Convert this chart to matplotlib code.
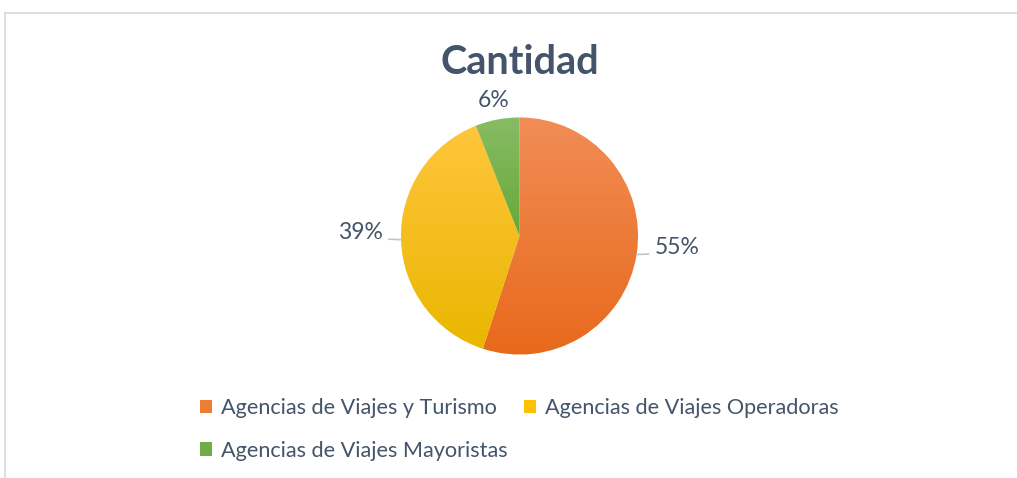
import numpy as np
import matplotlib
matplotlib.use("Agg")
from matplotlib import pyplot as plt
from matplotlib.patches import Patch
from matplotlib.lines import Line2D
from matplotlib.colors import LinearSegmentedColormap

# datos
categorias = ["Agencias de Viajes y Turismo",
              "Agencias de Viajes Operadoras",
              "Agencias de Viajes Mayoristas"]
porcentajes = [55, 39, 6]
titulo = "Cantidad"

# colores (arriba claro -> abajo oscuro)
col_base = ["#ED7D31", "#FFC000", "#70AD47"]
col_arriba = ["#F18D56", "#FFC53C", "#88BC64"]
col_abajo = ["#E8691B", "#E9B700", "#66A83A"]
texto = "#44546A"

plt.rcParams['font.family'] = ['Lato', 'DejaVu Sans']

W, H = 1017, 478
fig = plt.figure(figsize=(W / 100, H / 100), dpi=100)

# marco del grafico
fig.add_artist(Line2D([4.5 / W, 4.5 / W], [0, 1 - 12.5 / H], color="#D9D9D9", lw=1.2))
fig.add_artist(Line2D([4.5 / W, 1], [1 - 12.5 / H, 1 - 12.5 / H], color="#D9D9D9", lw=1.2))

# pie: centro (519, 236), radio 118 px
cx, cy, r = 519.5, H - 236, 118.5
half = r * 1.1
ax = fig.add_axes([(cx - half) / W, (cy - half) / H, 2 * half / W, 2 * half / H])

wedges, _ = ax.pie(porcentajes, colors=col_base, startangle=90, counterclock=False,
                   wedgeprops=dict(edgecolor="white", linewidth=0.6))

for w, c1, c2 in zip(wedges, col_arriba, col_abajo):
    verts = w.get_patch_transform().transform(w.get_path().vertices)
    y0, y1 = verts[:, 1].min(), verts[:, 1].max()
    cmap = LinearSegmentedColormap.from_list("g", [c2, c1])
    grad = np.linspace(0, 1, 256).reshape(-1, 1)
    im = ax.imshow(grad, cmap=cmap, origin="lower", aspect="auto",
                   extent=[-1.05, 1.05, y0, y1], zorder=w.get_zorder())
    im.set_clip_path(w)

ax.set_xlim(-1.1, 1.1)
ax.set_ylim(-1.1, 1.1)
ax.axis("off")

# etiquetas de porcentaje
for i, (w, p) in enumerate(zip(wedges, porcentajes)):
    ang = np.deg2rad((w.theta1 + w.theta2) / 2)
    x, y = np.cos(ang), np.sin(ang)
    if p < 10:
        ax.annotate(f"{p}%", xy=(x * 1.16, y * 1.16), ha="center", va="center",
                    fontsize=16.5, color=texto, annotation_clip=False)
    else:
        lado = 1 if x > 0 else -1
        ax.annotate(f"{p}%", xy=(x, y), xytext=(x + lado * 0.15, y + 0.06),
                    ha="left" if lado > 0 else "right", va="center",
                    fontsize=16.5, color=texto, annotation_clip=False,
                    arrowprops=dict(arrowstyle="-", color="#BFC6D0", lw=1.2,
                                    shrinkA=2, shrinkB=0,
                                    relpos=(0, 0.2) if lado > 0 else (1, 0.2)))

# titulo
fig.text(520 / W, 1 - 63 / H, titulo, ha="center", va="center",
         fontsize=28.5, fontweight="bold", color=texto)

# leyenda (orden por filas)
handles = [Patch(facecolor=c, edgecolor="none") for c in col_base]
orden = [0, 2, 1]
leg = fig.legend([handles[i] for i in orden], [categorias[i] for i in orden],
                 ncol=2, loc="upper left", bbox_to_anchor=(200 / W, 1 - 398 / H),
                 frameon=False, fontsize=15.6, handlelength=0.56, handleheight=0.56,
                 handletextpad=0.42, columnspacing=0.75, labelspacing=1.05,
                 borderpad=0, borderaxespad=0)
for t in leg.get_texts():
    t.set_color(texto)

fig.savefig("out.png", dpi=100)
